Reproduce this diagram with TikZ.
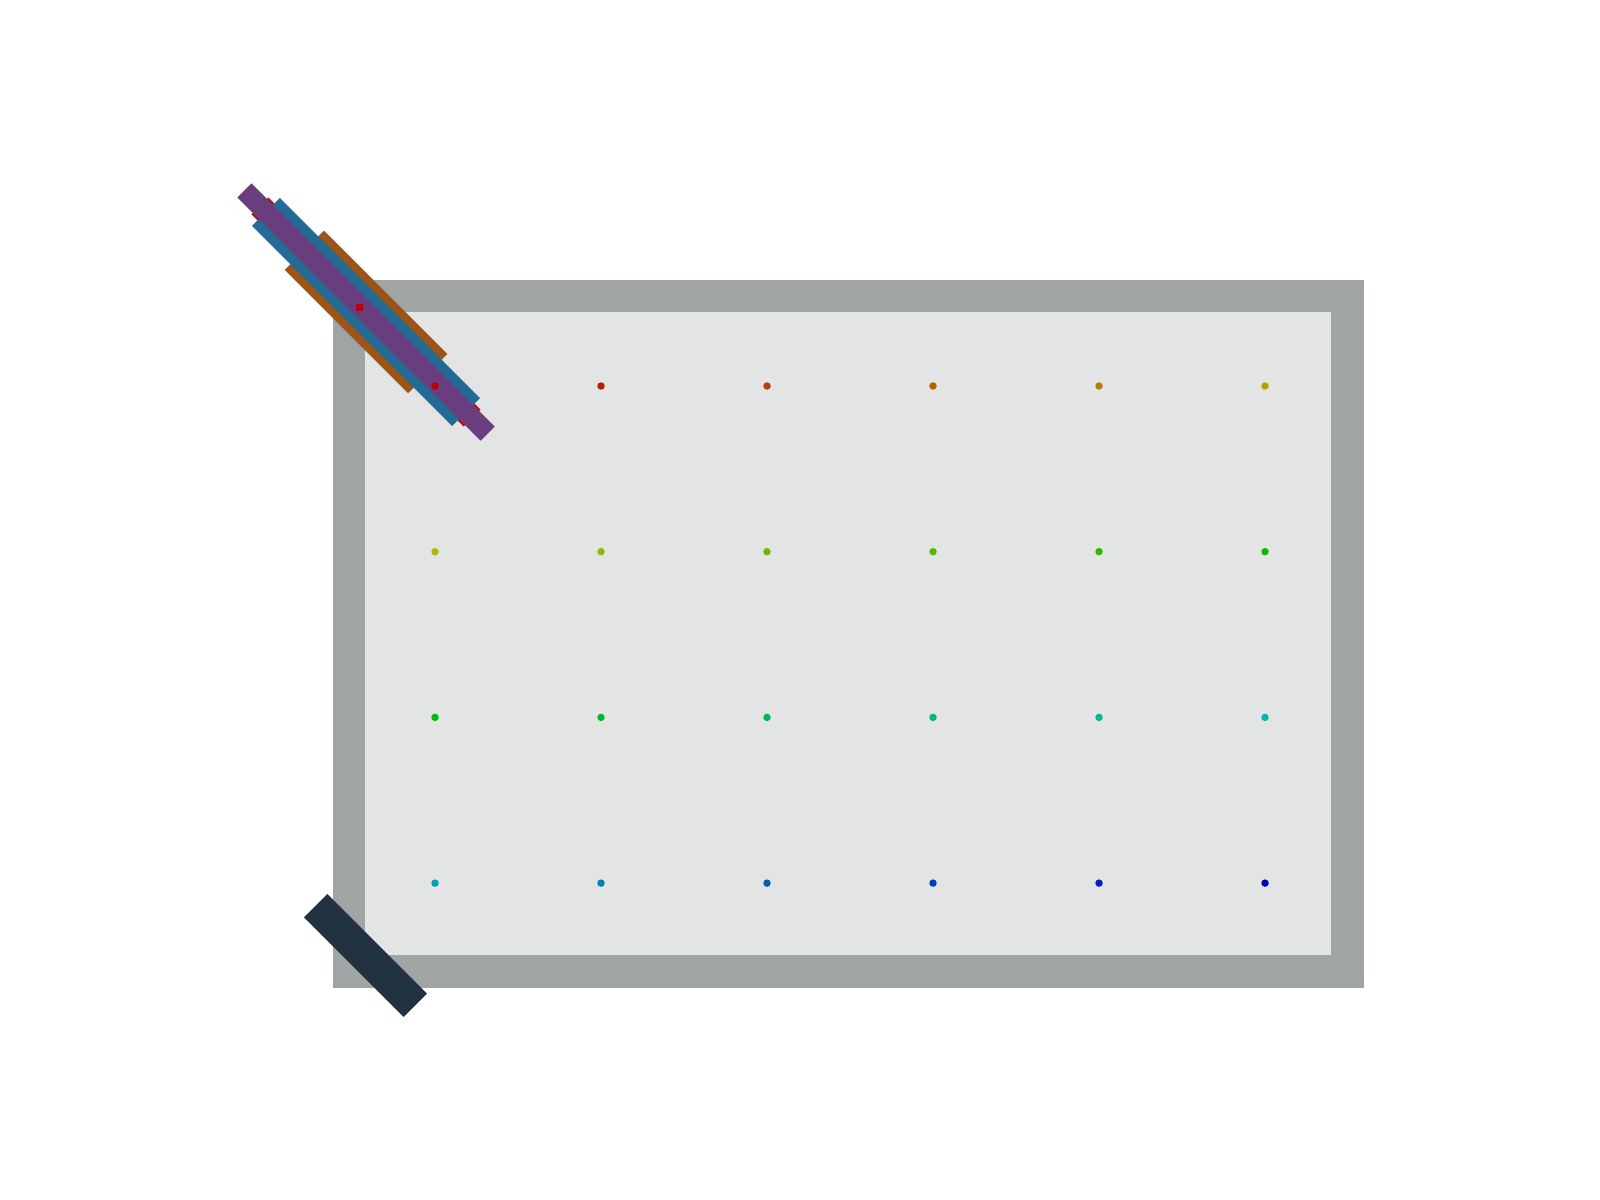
\documentclass[tikz,border=0pt]{standalone}
\usepackage{xcolor}
\definecolor{outergray}{HTML}{A1A4A4}
\definecolor{innergray}{HTML}{E3E5E4}
\definecolor{barorange}{HTML}{9B5518}
\definecolor{barblue}{HTML}{236B94}
\definecolor{barred}{HTML}{B01010}
\definecolor{barpurple}{HTML}{6A3E7E}
\definecolor{bardark}{HTML}{233240}
\definecolor{markred}{HTML}{C00000}
\tikzset{
  bar/.style={draw=none, inner sep=0pt, outer sep=0pt, rotate=-45},
  griddot/.style={circle, draw=none, inner sep=0pt, minimum size=1.5mm},
}
\begin{document}
\begin{tikzpicture}[x=0.2mm,y=-0.2mm]
  \useasboundingbox (0,0) rectangle (1600,1200);
  % frame
  \fill[outergray] (333,280) rectangle (1364,988);
  \fill[innergray] (365,312) rectangle (1331,955);
  % bars at top-left corner
  \node[bar, fill=barred, minimum width=60mm, minimum height=4.8mm] (redbar) at (366,312) {};
  \node[bar, fill=barorange, minimum width=34.9mm, minimum height=11.1mm] (orangebar) at (366,312) {};
  \node[bar, fill=barblue, minimum width=56.6mm, minimum height=7.9mm] (bluebar) at (366,312) {};
  \node[bar, fill=barpurple, minimum width=68.8mm, minimum height=4mm] (purplebar) at (366,312) {};
  % bar at bottom-left corner
  \node[bar, fill=bardark, minimum width=28.2mm, minimum height=6.6mm] (darkbar) at (365.5,955.5) {};
  % red marker
  \node[draw=none, fill=markred, inner sep=0pt, minimum size=1.4mm] (marker) at (359,308) {};
  % grid of dots
  \foreach \r in {0,...,3}{
    \foreach \c in {0,...,5}{
      \pgfmathsetmacro{\hue}{(\r*6+\c)*240/23}
      \convertcolorspec{Hsb}{\hue,1,0.72}{rgb}\dotspec
      \definecolor{dotc}{rgb}{\dotspec}
      \node[griddot, fill=dotc] (dot-\r-\c) at ({435+166*\c},{386+165.7*\r}) {};
    }
  }
\end{tikzpicture}
\end{document}
